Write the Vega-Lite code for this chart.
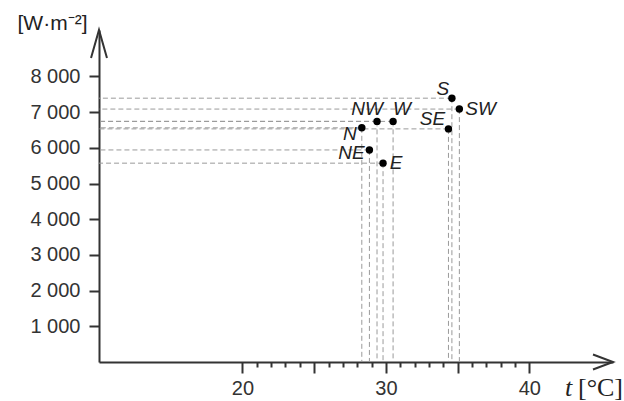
{
  "$schema": "https://vega.github.io/schema/vega-lite/v6.json",
  "width": 514,
  "height": 332,
  "autosize": {"type": "none"},
  "padding": {"left": 99, "top": 30, "right": 11, "bottom": 39},
  "background": "white",
  "config": {"view": {"stroke": null}, "font": "Liberation Sans", "axis": {"grid": false}},
  "data": {"values": [
    {"dir": "N", "t": 28.32, "q": 6560},
    {"dir": "NE", "t": 28.85, "q": 5940},
    {"dir": "E", "t": 29.8, "q": 5570},
    {"dir": "NW", "t": 29.38, "q": 6740},
    {"dir": "W", "t": 30.5, "q": 6740},
    {"dir": "SE", "t": 34.36, "q": 6530},
    {"dir": "S", "t": 34.6, "q": 7390},
    {"dir": "SW", "t": 35.12, "q": 7085}
  ]},
  "resolve": {"axis": {"x": "independent", "y": "independent"}},
  "layer": [
    {
      "mark": {"type": "rule", "orient": "horizontal", "strokeDash": [5, 3], "color": "#9a9a9a", "strokeWidth": 1},
      "encoding": {
        "x": {"field": "t", "type": "quantitative", "scale": {"domain": [10, 45.83], "nice": false, "zero": false},
          "axis": {"orient": "bottom", "values": [20, 25, 30, 35, 40], "tickSize": 11, "tickWidth": 2, "tickColor": "#333", "domainColor": "#333", "domainWidth": 2,
            "labelExpr": "datum.value % 10 === 0 ? datum.label : ''", "labelFontSize": 20, "labelColor": "#333", "labelPadding": 5,
            "title": "[°C]", "titleFont": "Liberation Serif", "titleFontSize": 26, "titleFontWeight": "normal", "titleColor": "#222",
            "titleX": 501, "titleY": 25, "titleAlign": "center", "titleBaseline": "middle"}},
        "y": {"field": "q", "type": "quantitative", "scale": {"domain": [0, 9300], "nice": false},
          "axis": {"orient": "left", "values": [1000, 2000, 3000, 4000, 5000, 6000, 7000, 8000], "tickSize": 10, "tickWidth": 2, "tickColor": "#333",
            "domainColor": "#333", "domainWidth": 2,
            "labelExpr": "replace(format(datum.value, ','), ',', ' ')", "labelFontSize": 20, "labelColor": "#333", "labelPadding": 9,
            "title": "[W·m⁻²]", "titleAngle": 0, "titleX": -47, "titleY": -7, "titleAlign": "center", "titleBaseline": "middle",
            "titleFontSize": 21, "titleFontWeight": "normal", "titleColor": "#222"}}
      }
    },
    {
      "mark": {"type": "rule", "orient": "vertical", "strokeDash": [5, 3], "color": "#9a9a9a", "strokeWidth": 1},
      "encoding": {
        "x": {"field": "t", "type": "quantitative", "scale": {"domain": [10, 45.83], "nice": false, "zero": false},
          "axis": {"orient": "bottom", "values": [21, 22, 23, 24, 26, 27, 28, 29, 31, 32, 33, 34, 36, 37, 38, 39], "tickSize": 5, "tickWidth": 2, "tickColor": "#333",
            "domain": false, "labels": false,
            "title": "t", "titleFont": "Liberation Serif", "titleFontStyle": "italic", "titleFontSize": 26, "titleFontWeight": "normal", "titleColor": "#222",
            "titleX": 469, "titleY": 25, "titleAlign": "center", "titleBaseline": "middle"}},
        "y": {"field": "q", "type": "quantitative", "scale": {"domain": [0, 9300], "nice": false}, "axis": null}
      }
    },
    {
      "mark": {"type": "point", "filled": true, "color": "#000", "size": 55, "opacity": 1},
      "encoding": {
        "x": {"field": "t", "type": "quantitative", "scale": {"domain": [10, 45.83], "nice": false, "zero": false}, "axis": null},
        "y": {"field": "q", "type": "quantitative", "scale": {"domain": [0, 9300], "nice": false}, "axis": null}
      }
    },
    {
      "data": {"values": [{}]},
      "mark": {"type": "point", "shape": "M-2,-0.75L0,0L-2,0.75", "filled": false, "stroke": "#333", "strokeWidth": 2, "size": 400, "opacity": 1},
      "encoding": {
        "x": {"datum": 45.83, "type": "quantitative", "scale": {"domain": [10, 45.83], "nice": false, "zero": false}, "axis": null},
        "y": {"datum": 0, "type": "quantitative", "scale": {"domain": [0, 9300], "nice": false}, "axis": null}
      }
    },
    {
      "data": {"values": [{}]},
      "mark": {"type": "point", "shape": "M-0.57,2L0,0L0.57,2", "filled": false, "stroke": "#333", "strokeWidth": 2, "size": 784, "opacity": 1},
      "encoding": {
        "x": {"datum": 10, "type": "quantitative", "scale": {"domain": [10, 45.83], "nice": false, "zero": false}, "axis": null},
        "y": {"datum": 9300, "type": "quantitative", "scale": {"domain": [0, 9300], "nice": false}, "axis": null}
      }
    },
    {"transform": [{"filter": "datum.dir === 'S'"}], "mark": {"type": "text", "fontStyle": "italic", "fontSize": 19, "color": "#222", "dx": -9, "dy": -9},
      "encoding": {"x": {"field": "t", "type": "quantitative", "axis": null}, "y": {"field": "q", "type": "quantitative", "axis": null}, "text": {"field": "dir"}}},
    {"transform": [{"filter": "datum.dir === 'SW'"}], "mark": {"type": "text", "fontStyle": "italic", "fontSize": 19, "color": "#222", "align": "left", "dx": 6, "dy": 0},
      "encoding": {"x": {"field": "t", "type": "quantitative", "axis": null}, "y": {"field": "q", "type": "quantitative", "axis": null}, "text": {"field": "dir"}}},
    {"transform": [{"filter": "datum.dir === 'NW'"}], "mark": {"type": "text", "fontStyle": "italic", "fontSize": 19, "color": "#222", "dx": -10, "dy": -12},
      "encoding": {"x": {"field": "t", "type": "quantitative", "axis": null}, "y": {"field": "q", "type": "quantitative", "axis": null}, "text": {"field": "dir"}}},
    {"transform": [{"filter": "datum.dir === 'W'"}], "mark": {"type": "text", "fontStyle": "italic", "fontSize": 19, "color": "#222", "dx": 9, "dy": -12},
      "encoding": {"x": {"field": "t", "type": "quantitative", "axis": null}, "y": {"field": "q", "type": "quantitative", "axis": null}, "text": {"field": "dir"}}},
    {"transform": [{"filter": "datum.dir === 'N'"}], "mark": {"type": "text", "fontStyle": "italic", "fontSize": 19, "color": "#222", "dx": -12, "dy": 6},
      "encoding": {"x": {"field": "t", "type": "quantitative", "axis": null}, "y": {"field": "q", "type": "quantitative", "axis": null}, "text": {"field": "dir"}}},
    {"transform": [{"filter": "datum.dir === 'SE'"}], "mark": {"type": "text", "fontStyle": "italic", "fontSize": 19, "color": "#222", "dx": -16, "dy": -10},
      "encoding": {"x": {"field": "t", "type": "quantitative", "axis": null}, "y": {"field": "q", "type": "quantitative", "axis": null}, "text": {"field": "dir"}}},
    {"transform": [{"filter": "datum.dir === 'NE'"}], "mark": {"type": "text", "fontStyle": "italic", "fontSize": 19, "color": "#222", "dx": -18, "dy": 3},
      "encoding": {"x": {"field": "t", "type": "quantitative", "axis": null}, "y": {"field": "q", "type": "quantitative", "axis": null}, "text": {"field": "dir"}}},
    {"transform": [{"filter": "datum.dir === 'E'"}], "mark": {"type": "text", "fontStyle": "italic", "fontSize": 19, "color": "#222", "dx": 13, "dy": 0},
      "encoding": {"x": {"field": "t", "type": "quantitative", "axis": null}, "y": {"field": "q", "type": "quantitative", "axis": null}, "text": {"field": "dir"}}}
  ]
}
